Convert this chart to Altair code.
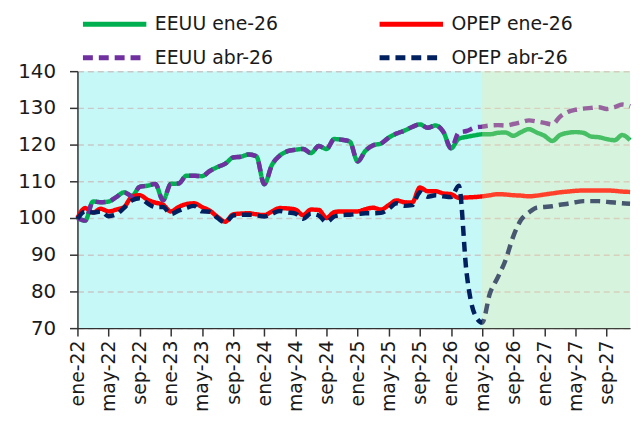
import json
import altair as alt
import pandas as pd

# ---- data -------------------------------------------------------------
MESES = ["ene", "feb", "mar", "abr", "may", "jun", "jul", "ago", "sep", "oct", "nov", "dic"]
ANIOS = ["22", "23", "24", "25", "26", "27"]
MONTHS = [f"{m}-{a}" for a in ANIOS for m in MESES]  # ene-22 ... dic-27

TICK_LABELS = ["ene-22", "may-22", "sep-22", "ene-23", "may-23", "sep-23",
               "ene-24", "may-24", "sep-24", "ene-25", "may-25", "sep-25",
               "ene-26", "may-26", "sep-26", "ene-27", "may-27", "sep-27"]

# EEUU history (ene-22 .. ene-26), shared by both vintages
EEUU_HIST = [100.0, 99.3, 104.5, 104.3, 104.5, 105.7, 107.0, 106.0, 108.5, 108.8,
             109.3, 104.8, 109.3, 109.4, 111.5, 111.5, 111.4, 112.8, 113.9, 114.8,
             116.5, 116.7, 117.3, 116.8, 109.2, 114.5, 117.0, 118.2, 118.6, 118.8,
             117.7, 119.6, 118.8, 121.5, 121.3, 120.8, 115.4, 118.3, 119.8, 120.3,
             121.9, 123.0, 123.8, 124.8, 125.5, 124.6, 125.2, 123.5, 119.0]
# EEUU forecasts (feb-26 .. dic-27)
EEUU_ENE_FCST = [121.6, 122.1, 122.5, 122.8, 122.8, 123.2, 123.3, 122.4, 123.4, 124.2,
                 123.3, 122.4, 121.0, 122.6, 123.2, 123.4, 123.2, 122.2, 122.0, 121.5,
                 121.2, 122.6, 121.2]
EEUU_ABR_FCST = [123.3, 123.7, 124.6, 124.9, 125.2, 125.3, 125.2, 125.6, 126.1, 126.6,
                 126.3, 125.9, 125.5, 127.6, 128.9, 129.5, 129.8, 130.0, 130.2, 129.7,
                 130.2, 130.9, 130.4]

OPEP_ENE = [100.0, 102.7, 101.5, 102.5, 101.8, 102.3, 103.0, 105.8, 106.2, 105.0,
            104.2, 103.6, 101.8, 103.0, 103.8, 104.0, 103.0, 102.0, 100.3, 99.0,
            101.0, 101.2, 101.3, 101.0, 100.8, 101.8, 102.7, 102.6, 102.3, 100.8,
            102.3, 102.2, 100.0, 101.6, 101.8, 101.8, 101.8, 102.4, 102.8, 102.3,
            103.5, 104.8, 104.3, 104.2, 108.3, 107.3, 107.3, 106.7, 106.5, 105.5,
            105.6, 105.7, 105.9, 106.2, 106.5, 106.4, 106.2, 106.1, 105.9, 106.1,
            106.4, 106.7, 107.0, 107.2, 107.4, 107.5, 107.5, 107.5, 107.5, 107.4,
            107.2, 107.1]
OPEP_ABR = [99.8, 101.8, 101.5, 101.8, 100.5, 101.0, 102.8, 104.8, 105.4, 104.0,
            103.0, 103.0, 101.1, 102.0, 102.8, 103.3, 101.8, 101.7, 100.0, 98.8,
            100.7, 100.9, 100.9, 100.7, 100.4, 101.2, 101.9, 101.5, 101.2, 99.8,
            101.2, 100.7, 98.9, 100.4, 100.8, 100.9, 101.1, 101.3, 101.3, 101.4,
            102.5, 104.0, 103.3, 103.5, 107.0, 105.8, 106.2, 105.9, 105.7, 108.8,
            85.0, 74.0, 71.5, 79.5, 83.8, 88.5, 95.0, 99.5, 101.5, 102.8,
            103.0, 103.2, 103.6, 103.9, 104.3, 104.6, 104.6, 104.6, 104.4, 104.2,
            104.0, 103.9]

# drawing order (bottom to top)
SERIES = ["EEUU ene-26", "OPEP ene-26", "EEUU abr-26", "OPEP abr-26"]
# legend order (legend fills column by column)
LEGEND_ORDER = ["EEUU ene-26", "EEUU abr-26", "OPEP ene-26", "OPEP abr-26"]
STYLE = {
    "EEUU ene-26": ("#00B050", [1, 0]),
    "OPEP ene-26": ("#FF0000", [1, 0]),
    "EEUU abr-26": ("#7030A0", [10, 6]),
    "OPEP abr-26": ("#002060", [10, 6]),
}

FORECAST_START = "may-26"

# ---- tidy table --------------------------------------------------------
values = {
    "EEUU ene-26": EEUU_HIST + EEUU_ENE_FCST,
    "OPEP ene-26": OPEP_ENE,
    "EEUU abr-26": EEUU_HIST + EEUU_ABR_FCST,
    "OPEP abr-26": OPEP_ABR,
}
rows = []
for s in SERIES:
    for i, v in enumerate(values[s]):
        rows.append({"m": i, "mes": MONTHS[i], "serie": s, "valor": v})
df = pd.DataFrame(rows)

shade = pd.DataFrame({"a": [MONTHS.index(FORECAST_START)], "b": [len(MONTHS) - 1]})

FONT = "DejaVu Sans"
W, H = 557, 259

tick_pos = [MONTHS.index(t) for t in TICK_LABELS]
label_expr = f"{json.dumps(TICK_LABELS)}[round(datum.value / 4)]"

xscale = alt.Scale(domain=[0, len(MONTHS) - 1], nice=False, zero=False)
yscale = alt.Scale(domain=[70, 140], nice=False, zero=False)

xaxis = alt.Axis(values=tick_pos, tickCount=40, labelExpr=label_expr, labelAngle=-90,
                 grid=False, title=None, tickSize=8, labelPadding=4, labelFontSize=19,
                 labelFont=FONT, labelColor="#1a1a1a", domainColor="#333333",
                 tickColor="#333333", domainWidth=1.5, tickWidth=1.5,
                 labelOverlap=False, labelBound=False)
yaxis = alt.Axis(values=list(range(70, 141, 10)), tickCount=20, title=None, tickSize=8,
                 labelPadding=14, labelFontSize=20, labelFont=FONT, labelColor="#1a1a1a",
                 domainColor="#333333", tickColor="#333333", domainWidth=1.5,
                 tickWidth=1.5, grid=True, gridColor="#C8C8C8", gridDash=[6, 4],
                 gridWidth=1.5, labelOverlap=False)

# wide, flat legend symbol: path spans 6 units wide on the -1..1 symbol canvas
color = alt.Color("serie:N",
                  scale=alt.Scale(domain=LEGEND_ORDER, range=[STYLE[s][0] for s in LEGEND_ORDER]),
                  legend=alt.Legend(title=None, orient="none", legendX=24, legendY=-61,
                                    columns=2, columnPadding=91, rowPadding=10,
                                    symbolType="M-3,0H3", symbolSize=454,
                                    symbolStrokeWidth=5, labelFontSize=19,
                                    labelFont=FONT, labelColor="#1a1a1a",
                                    labelOffset=27, labelLimit=300))
dash = alt.StrokeDash("serie:N",
                      scale=alt.Scale(domain=LEGEND_ORDER, range=[STYLE[s][1] for s in LEGEND_ORDER]),
                      legend=None)

layers = []
for s in SERIES:
    layers.append(
        alt.Chart(df[df.serie == s])
        .mark_line(strokeWidth=4.5, interpolate="monotone")
        .encode(x=alt.X("m:Q", scale=xscale, axis=xaxis),
                y=alt.Y("valor:Q", scale=yscale, axis=yaxis),
                color=color, strokeDash=dash)
    )

overlay = alt.Chart(shade).mark_rect(color="#FFE699", opacity=0.28).encode(
    x=alt.X("a:Q", scale=xscale), x2="b:Q",
    y=alt.datum(70), y2=alt.datum(140))

chart = alt.layer(*layers, overlay).properties(
    width=W, height=H,
    autosize=alt.AutoSizeParams(type="none"),
    padding={"left": 70, "top": 62, "right": 6, "bottom": 100},
).configure_view(stroke=None, fill="#C6F8F8")

chart.save("out.html", embed_options={"renderer": "svg", "actions": False})
